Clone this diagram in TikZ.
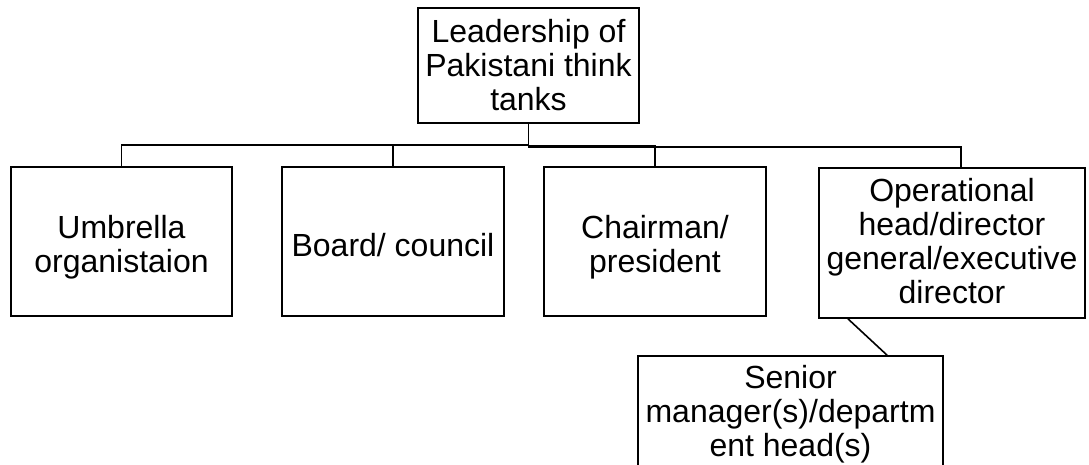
\documentclass[tikz,border=0pt]{standalone}
\usepackage{fontspec}
\setmainfont{Liberation Sans}
\usetikzlibrary{calc}
\newcommand{\tallline}[1]{\rule{0pt}{#1}}
\newcommand{\deepline}[1]{\rule[-#1]{0pt}{#1}}
\begin{document}
\begin{tikzpicture}[x=1pt,y=-1pt,
  box/.style={draw, line width=1.8pt, inner sep=0pt, align=center,
    font=\fontsize{32}{34}\selectfont},
  conn/.style={line width=1.6pt}]
\clip (0,0) rectangle (1089,465);
\fill[white] (0,0) rectangle (1089,465);
\node[box, minimum width=221pt, minimum height=115pt] (top) at (528.5,65.5)
  {Leadership of\\Pakistani think\\tanks};
\node[box, minimum width=221pt, minimum height=149pt] (umb) at (121.5,241.5)
  {\tallline{35.5pt}Umbrella\\organistaion};
\node[box, minimum width=222pt, minimum height=149pt] (board) at (393,241.5)
  {\tallline{29.5pt}Board/ council};
\node[box, minimum width=222pt, minimum height=149pt] (chair) at (655,241.5)
  {\tallline{35.5pt}Chairman/\\president};
\node[box, minimum width=266pt, minimum height=150pt] (oper) at (952,243)
  {Operational\\head/director\\general/executive\\director\deepline{5pt}};
\node[box, minimum width=305pt, minimum height=112pt] (senior) at (790.5,412)
  {\tallline{27.5pt}Senior\\manager(s)/departm\\ent head(s)};
\draw[conn] (top.south) -- ++(0,21) -| (umb.north);
\draw[conn] (top.south) -- ++(0,21) -| (board.north);
\draw[conn] (top.south) -- ++(0,22) -| (chair.north);
\draw[conn] (top.south) -- ++(0,23) -| ([xshift=9pt]oper.north);
\draw[conn] ([xshift=-104pt]oper.south) -- ([xshift=96.5pt]senior.north);
\end{tikzpicture}
\end{document}
